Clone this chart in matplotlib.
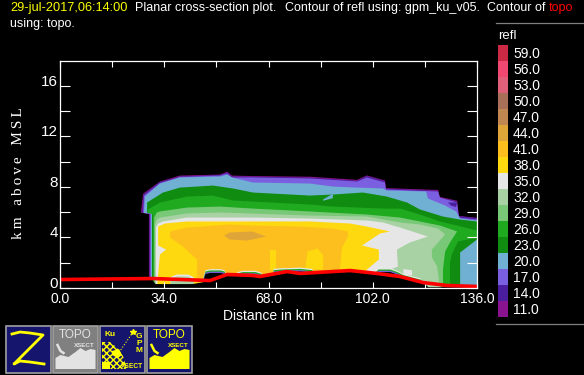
import matplotlib
matplotlib.use("Agg")
import matplotlib.pyplot as plt
from matplotlib.patches import Rectangle

plt.rcParams['font.family'] = ['Liberation Sans', 'DejaVu Sans']

# colour bar
refl_levels = [59.0, 56.0, 53.0, 50.0, 47.0, 44.0, 41.0, 38.0, 35.0, 32.0, 29.0, 26.0, 23.0, 20.0, 17.0, 14.0, 11.0]
refl_colors = ['#cc2944', '#f04870', '#e0607a', '#a87058', '#c08850', '#e0a538', '#fdbf1e', '#ffd90f', '#e6e6e6',
               '#a8d2a4', '#78c878', '#20aa20', '#108c10', '#70b0d2', '#7a60e0', '#4a1e9e', '#8a1490']
color_of = dict(zip(refl_levels, refl_colors))

x_ticks = [0, 17, 34, 51, 68, 85, 102, 119, 136]
x_labels = ['0.0', '', '34.0', '', '68.0', '', '102.0', '', '136.0']
y_ticks = [0, 2, 4, 6, 8, 10, 12, 14, 16]
y_labels = ['0', '', '4', '', '8', '', '12', '', '16']

# contour outlines, distance in km / height in km
lev11_x = [29.0, 29.0, 26.4, 27.1, 32.6, 39.1, 52.2, 54.5, 56.1, 62.9, 81.5, 96.9, 100.1, 106.0, 106.3, 123.3, 123.9, 129.5, 130.1, 136.0, 136.0]
lev11_y = [0.0, 5.85, 5.97, 7.45, 8.42, 8.89, 8.97, 9.2, 8.89, 8.85, 8.8, 8.55, 8.9, 8.5, 7.9, 7.75, 7.2, 6.9, 5.7, 5.55, 0.0]
lev14_x = [29.2, 29.2, 26.8, 27.3, 32.6, 39.1, 52.2, 54.5, 56.1, 62.9, 81.5, 96.9, 100.1, 105.8, 106.1, 123.0, 123.6, 129.2, 129.9, 136.0, 136.0]
lev14_y = [0.0, 5.89, 5.95, 7.4, 8.38, 8.81, 8.93, 9.13, 8.81, 8.8, 8.72, 8.47, 8.85, 8.45, 7.85, 7.68, 7.15, 6.86, 5.68, 5.52, 0.0]
lev17_x = [29.4, 29.4, 27.1, 27.4, 32.6, 39.1, 52.2, 54.5, 56.1, 62.9, 81.5, 96.9, 100.1, 106.0, 106.3, 123.3, 123.9, 129.5, 130.1, 136.0, 136.0]
lev17_y = [0.0, 5.89, 5.93, 7.31, 8.3, 8.78, 8.89, 9.05, 8.74, 8.74, 8.66, 8.42, 8.74, 8.34, 7.79, 7.63, 7.15, 6.76, 5.57, 5.41, 0.0]
lev20_x = [29.7, 29.7, 27.4, 27.7, 32.6, 39.1, 52.2, 54.5, 56.1, 62.9, 81.5, 89.0, 96.9, 105.3, 106.6, 119.4, 120.0, 125.6, 129.2, 130.5, 136.0, 136.0]
lev20_y = [0.0, 5.89, 5.93, 7.23, 8.26, 8.74, 8.81, 8.97, 8.74, 8.34, 8.26, 8.02, 7.94, 7.87, 7.71, 7.63, 7.08, 6.52, 6.05, 5.49, 5.34, 0.0]
lev20_patch_x = [85.8, 89.0, 89.0, 85.8]
lev20_patch_y = [7.0, 7.45, 7.1, 6.9]
lev23_x = [30.0, 30.0, 28.4, 28.4, 33.6, 39.1, 49.9, 56.4, 62.9, 81.5, 89.0, 98.8, 106.6, 113.2, 117.4, 124.9, 130.5, 136.0, 136.0, 130.5, 130.5]
lev23_y = [0.0, 5.89, 5.97, 6.76, 7.55, 7.94, 8.1, 7.87, 7.55, 7.31, 7.39, 7.55, 7.23, 6.76, 6.21, 5.65, 5.41, 5.26, 3.83, 2.81, 0.0]
lev26_x = [30.3, 30.3, 28.7, 28.7, 32.6, 41.4, 49.9, 56.4, 81.5, 89.0, 105.3, 110.9, 117.4, 123.9, 129.5, 136.0, 136.0, 129.8, 127.8, 127.2, 127.2]
lev26_y = [0.0, 5.81, 5.97, 6.21, 6.76, 7.23, 7.31, 6.92, 6.6, 6.44, 6.28, 6.28, 5.81, 5.26, 4.94, 4.55, 3.99, 3.68, 2.65, 2.02, 0.0]
lev29_x = [30.7, 30.7, 31.6, 32.6, 41.4, 52.2, 62.9, 81.5, 100.1, 110.9, 117.4, 123.9, 129.5, 127.2, 125.6, 124.9, 124.9]
lev29_y = [0.0, 5.57, 5.97, 6.05, 6.36, 6.44, 6.28, 6.05, 5.81, 5.57, 5.26, 4.94, 4.47, 3.6, 2.89, 1.46, 0.0]
lev32_x = [31.0, 31.0, 31.6, 32.6, 41.4, 52.2, 81.5, 100.1, 110.9, 117.4, 123.3, 125.6, 123.3, 121.3, 121.3, 123.0, 123.9]
lev32_y = [0.0, 5.02, 5.41, 5.57, 5.89, 5.97, 5.73, 5.65, 5.18, 5.02, 4.7, 4.23, 3.6, 3.04, 2.41, 1.7, 0.0]
lev35_x = [31.3, 31.3, 32.0, 33.6, 41.4, 62.9, 81.5, 100.1, 105.3, 110.9, 120.0, 114.1, 109.9, 110.2, 107.6, 101.1, 94.6]
lev35_y = [0.0, 4.78, 5.1, 5.26, 5.57, 5.57, 5.49, 5.34, 5.18, 4.78, 4.07, 3.6, 3.04, 1.7, 1.46, 1.15, 0.0]
lev35_patch_x = [112.0, 114.8, 114.8, 112.0]
lev35_patch_y = [1.5, 1.4, 1.0, 1.0]
lev38_x = [31.6, 32.6, 34.6, 32.0, 32.0, 34.2, 41.4, 81.5, 94.6, 100.1, 107.6, 104.4, 98.5, 104.0, 104.0, 100.1, 97.0]
lev38_y = [0.0, 2.65, 3.04, 3.36, 4.86, 5.1, 5.26, 5.26, 5.1, 4.86, 4.47, 4.31, 3.36, 3.04, 2.25, 1.46, 0.0]
lev38_patch1_x = [68.5, 70.4, 70.4, 68.5]
lev38_patch1_y = [3.0, 3.0, 1.46, 1.46]
lev38_patch2_x = [79.9, 80.8, 84.0, 85.8, 85.8, 79.9]
lev38_patch2_y = [1.46, 2.9, 3.12, 2.6, 1.46, 1.46]
lev41_x = [44.7, 44.7, 40.1, 35.9, 35.9, 41.4, 55.4, 62.9, 78.3, 89.0, 93.9, 93.9, 92.0, 91.3, 91.3]
lev41_y = [0.0, 2.25, 3.28, 3.99, 4.47, 4.78, 5.02, 4.94, 4.86, 4.7, 4.47, 4.07, 3.2, 1.54, 0.0]
lev44_x = [53.5, 55.4, 62.6, 67.2, 61.0, 55.4]
lev44_y = [4.15, 4.39, 4.47, 4.07, 3.75, 3.83]
lev14_patch_x = [126.5, 129.5, 129.2, 127.5]
lev14_patch_y = [6.76, 6.76, 6.4, 6.52]

# echo-free pockets just above the ground
pocket1_x = [46.6, 47.3, 48.9, 52.2, 53.5, 54.1]
pocket1_y = [0.59, 1.15, 1.23, 1.23, 1.15, 0.75]
pocket2_x = [57.7, 59.4, 63.6, 65.6]
pocket2_y = [0.99, 1.1, 1.1, 0.95]
pocket3_x = [69.5, 71.8, 78.3, 82.2]
pocket3_y = [1.25, 1.3, 1.35, 1.25]
pocket4_x = [102.1, 103.7, 107.6, 109.9, 111.9, 117.4]
pocket4_y = [0.9, 1.3, 1.3, 1.1, 0.85, 0.5]
bump_x = [35.9, 37.8, 41.7, 43.4]
bump_y = [0.75, 0.95, 0.95, 0.75]

# topo line and where the echo stops under it
topo_x = [0, 30.3, 48.9, 54.5, 62.9, 65.2, 74.0, 78.3, 94.6, 103.4, 110.9, 118.4, 126.2, 136.0]
topo_y = [0.67, 0.75, 0.59, 1.07, 0.99, 0.91, 1.3, 1.15, 1.38, 1.15, 0.91, 0.43, 0.2, 0.12]
floor_x = [0, 29.7, 31.0, 43.0, 48.9, 54.5, 62.9, 65.2, 74.0, 78.3, 94.6, 103.4, 110.9, 118.4, 120.0, 124.0, 126.2, 136.0]
floor_y = [0.67, 0.75, 0.35, 0.35, 0.59, 1.07, 0.99, 0.91, 1.3, 1.15, 1.38, 1.15, 0.91, 0.43, 0.1, 0.1, 0.2, 0.12]

fig = plt.figure(figsize=(5.84, 3.75), dpi=100, facecolor='black')
ax = fig.add_axes([60 / 584, 1 - 288 / 375, 417 / 584, 227 / 375], facecolor='black')

contours = [(lev11_x, lev11_y, 11.0), (lev14_x, lev14_y, 14.0), (lev17_x, lev17_y, 17.0), (lev14_patch_x, lev14_patch_y, 14.0),
            (lev20_x, lev20_y, 20.0), (lev23_x, lev23_y, 23.0), (lev20_patch_x, lev20_patch_y, 20.0),
            (lev26_x, lev26_y, 26.0), (lev29_x, lev29_y, 29.0), (lev32_x, lev32_y, 32.0), (lev35_x, lev35_y, 35.0),
            (lev35_patch_x, lev35_patch_y, 35.0), (lev38_x, lev38_y, 38.0), (lev41_x, lev41_y, 41.0),
            (lev38_patch1_x, lev38_patch1_y, 38.0), (lev38_patch2_x, lev38_patch2_y, 38.0), (lev44_x, lev44_y, 44.0)]
for cx, cy, lev in contours:
    ax.fill(cx, cy, color=color_of[lev], lw=0)

# pockets get a thin rim of the weak levels
for px, py in [(pocket1_x, pocket1_y), (pocket2_x, pocket2_y), (pocket3_x, pocket3_y), (pocket4_x, pocket4_y)]:
    for off, lev in [(0.3, 35.0), (0.2, 26.0), (0.1, 17.0)]:
        ax.fill_between(px, 0, [v + off for v in py], color=color_of[lev], lw=0)
    ax.fill_between(px, 0, py, color='black', lw=0)
ax.fill_between(bump_x, 0, [v + 0.15 for v in bump_y], color=color_of[35.0], lw=0)
ax.fill_between(bump_x, 0, bump_y, color=color_of[32.0], lw=0)

ax.fill_between(floor_x, -1, floor_y, color='black', lw=0)
ax.plot(topo_x, topo_y, color='#ff0000', lw=2.6, solid_capstyle='butt')

ax.set_xlim(0, 136)
ax.set_ylim(0, 17.95)
ax.set_xticks(x_ticks)
ax.set_xticklabels(x_labels)
ax.set_yticks(y_ticks)
ax.set_yticklabels(y_labels)
ax.tick_params(axis='x', direction='in', top=True, length=4.3, width=0.8, color='white', labelcolor='white', labelsize=10, pad=3)
ax.tick_params(axis='y', direction='in', right=True, length=7.4, width=0.8, color='white', labelcolor='white', labelsize=11, pad=1.5)
for lab in ax.get_yticklabels():
    lab.set_va('baseline')
for sp in ax.spines.values():
    sp.set_color('white')
    sp.set_linewidth(0.9)
ax.set_xlabel('Distance in km', color='white', fontsize=10, labelpad=2)
ax.set_ylabel('k\u2009m   a\u2009b\u2009o\u2009v\u2009e   M\u2009S\u2009L', color='white', fontsize=11, family='Liberation Serif')
ax.yaxis.set_label_coords(-0.084, 0.505)

# everything outside the plot, in pixel positions of the figure
over = fig.add_axes([0, 0, 1, 1], facecolor='none')
over.set_xlim(0, 584)
over.set_ylim(375, 0)
over.axis('off')

over.text(10, 8, '29-jul-2017,06:14:00', color='yellow', fontsize=9.2, va='center')
over.text(135, 8, 'Planar cross-section plot.', color='white', fontsize=9, va='center')
over.text(285, 8, 'Contour of refl using: gpm_ku_v05.', color='white', fontsize=9, va='center')
over.text(487, 8, 'Contour of', color='white', fontsize=9, va='center')
over.text(549, 8, 'topo', color='red', fontsize=9, va='center')
over.text(10, 24, 'using: topo.', color='white', fontsize=9, va='center')

over.plot([496, 584], [23, 23], color='#808080', lw=0.9)
over.plot([496, 584], [324, 324], color='#808080', lw=0.9)
over.text(498, 36, 'refl', color='white', fontsize=9.5, va='center')
for i, (lev, col) in enumerate(zip(refl_levels, refl_colors)):
    over.add_patch(Rectangle((498, 45 + i * 16), 10, 16, color=col, lw=0))
    over.text(513, 54 + i * 16, f'{lev:.1f}', color='white', fontsize=10, va='center')


def icon_box(x0, face):
    over.add_patch(Rectangle((x0, 325.5), 45.5, 47, facecolor=face, edgecolor='#a0a0a0', lw=1.2))


def topo_icon(x0, fg):
    over.text(x0 + 23, 335.5, 'TOPO', color=fg, fontsize=8.5, ha='center', va='center')
    over.text(x0 + 32, 345.5, 'XSECT', color=fg, fontsize=4.5, ha='center', va='center', fontweight='bold')
    over.fill([x0 + 3, x0 + 8, x0 + 16, x0 + 23, x0 + 28, x0 + 33, x0 + 38, x0 + 43, x0 + 43, x0 + 3],
              [358, 355, 357, 352, 348, 351, 349, 350, 369, 369], color=fg, lw=0)
    over.plot([x0 + 5, x0 + 8, x0 + 11], [345, 351, 353], color=fg, lw=1.8)


icon_box(5.5, '#15156e')
over.plot([12, 20, 30, 43, 14, 20, 30, 44], [334, 332, 333, 335, 364, 361, 362, 364], color='yellow', lw=2)

icon_box(52.5, '#808080')
topo_icon(52.5, '#e2e2e2')

icon_box(99.5, '#15156e')
over.text(110, 334, 'Ku', color='yellow', fontsize=6, ha='center', va='center', fontweight='bold')
for k, ch in enumerate('GPM'):
    over.text(139, 336 + k * 7.5, ch, color='yellow', fontsize=6, ha='center', va='center', fontweight='bold')
over.plot([133, 118], [332, 354], color='yellow', lw=0.8, ls=':')
over.plot([133], [332], marker='*', color='yellow', ms=4)
over.fill([102, 110, 115, 119, 123, 127, 102], [342, 342, 346, 350, 356, 369, 369], facecolor='none', edgecolor='yellow', hatch='xxxxx', lw=0)
over.fill([102, 110, 110, 102], [362, 362, 369, 369], color='yellow', lw=0)
over.fill([112, 119, 122, 118, 112], [351, 349, 355, 358, 355], color='yellow', lw=0)
over.text(132, 366, 'XSECT', color='yellow', fontsize=4.8, ha='center', va='center', fontweight='bold')

icon_box(146.5, '#15156e')
topo_icon(146.5, '#ffff00')

fig.savefig('out.png', dpi=100, facecolor='black')
